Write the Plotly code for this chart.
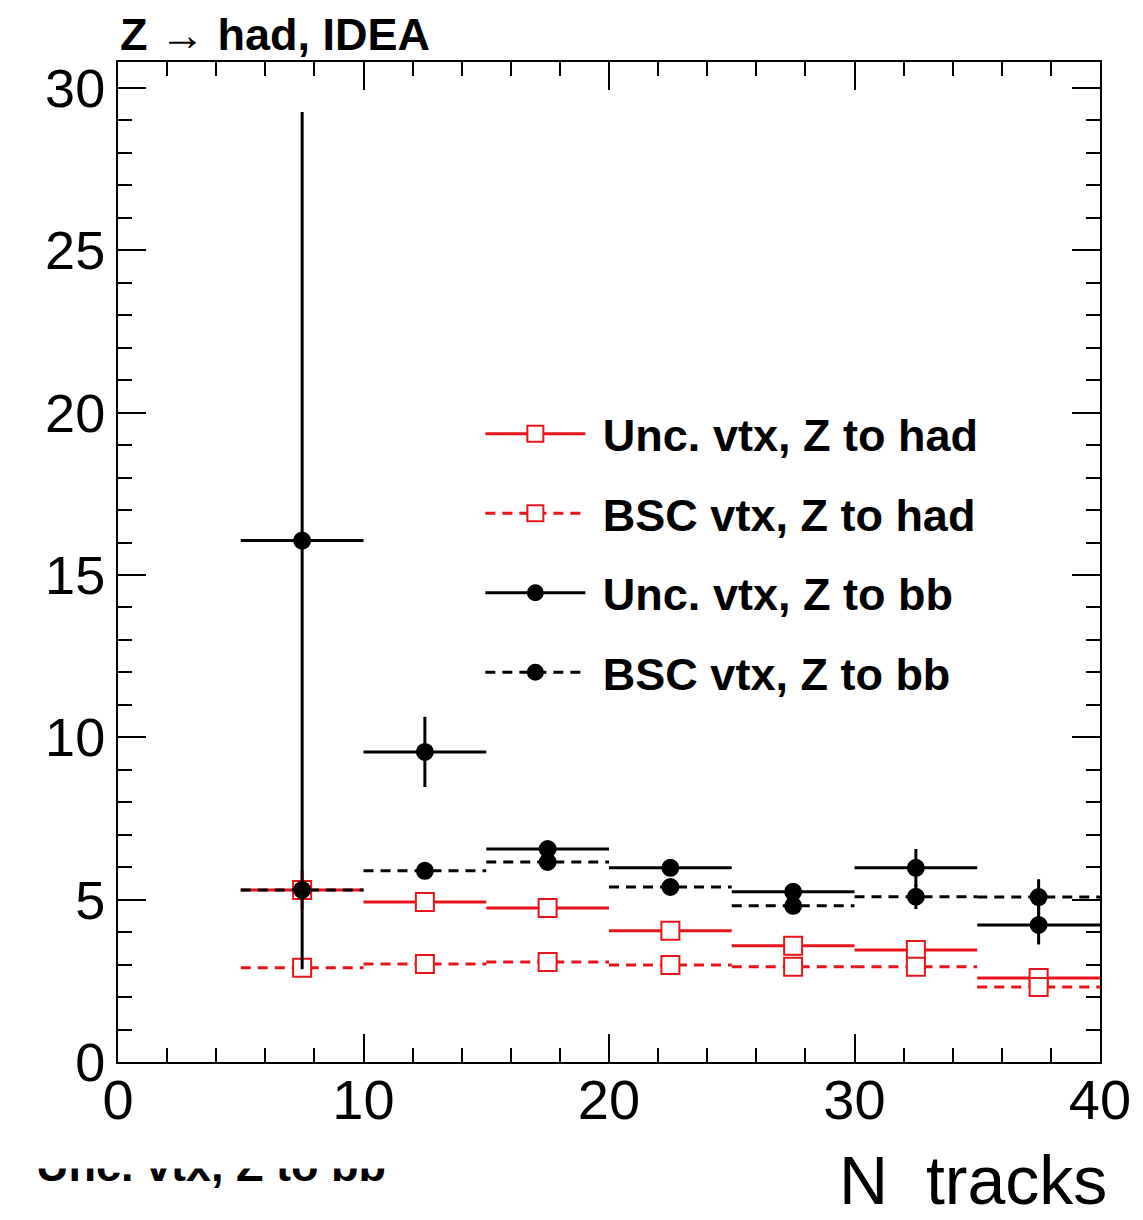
import plotly.graph_objects as go

# ---- data ----
bin_lo = [5, 10, 15, 20, 25, 30, 35]
bin_hi = [10, 15, 20, 25, 30, 35, 40]
bin_center = [7.5, 12.5, 17.5, 22.5, 27.5, 32.5, 37.5]

unc_had = [5.30, 4.93, 4.74, 4.04, 3.58, 3.45, 2.59]
unc_had_err = [0.60, 0.15, 0.15, 0.12, 0.12, 0.12, 0.12]
bsc_had = [2.90, 3.02, 3.08, 2.99, 2.93, 2.93, 2.31]
bsc_had_err = [0.10, 0.10, 0.10, 0.10, 0.10, 0.10, 0.10]
unc_bb = [16.06, 9.55, 6.56, 5.98, 5.24, 5.98, 4.22]
unc_bb_err = [13.2, 1.08, 0.15, 0.15, 0.15, 0.58, 0.60]
bsc_bb = [5.30, 5.89, 6.16, 5.39, 4.81, 5.09, 5.08]
bsc_bb_err = [0.30, 0.15, 0.15, 0.15, 0.15, 0.38, 0.55]

series = [
    ("Unc. vtx, Z to had", unc_had, unc_had_err, "#e8141c", "solid", "square", "white"),
    ("BSC vtx, Z to had", bsc_had, bsc_had_err, "#e8141c", "10px,7px", "square", "white"),
    ("Unc. vtx, Z to bb", unc_bb, unc_bb_err, "black", "solid", "circle", "black"),
    ("BSC vtx, Z to bb", bsc_bb, bsc_bb_err, "black", "10px,7px", "circle", "black"),
]

FONT = "Liberation Sans, Arial, Helvetica, sans-serif"

fig = go.Figure()

for name, vals, errs, col, dash, sym, fill in series:
    sx, sy = [], []
    for lo, hi, v in zip(bin_lo, bin_hi, vals):
        sx += [lo, hi, None]
        sy += [v, v, None]
    fig.add_trace(go.Scatter(x=sx, y=sy, mode="lines",
                             line=dict(color=col, width=3, dash=dash),
                             showlegend=False, hoverinfo="skip"))
    fig.add_trace(go.Scatter(
        x=bin_center, y=vals, mode="markers",
        marker=dict(symbol=sym, size=18 if sym == "square" else 16,
                    color=fill, line=dict(color=col, width=2)),
        error_y=dict(type="data", array=errs, visible=True,
                     color=col, thickness=3, width=0),
        showlegend=False))

# legend-only entries
for i, (name, vals, errs, col, dash, sym, fill) in enumerate(series):
    fig.add_trace(go.Scatter(
        x=[None], y=[None], mode="lines+markers",
        name="\u00a0" + name,
        legendgroup=f"g{i}",
        line=dict(color=col, width=3, dash=dash),
        marker=dict(symbol=sym, size=16 if sym == "square" else 15,
                    color=fill, line=dict(color=col, width=2))))

axis_common = dict(
    showline=True, linecolor="black", linewidth=2, mirror="allticks",
    ticks="inside", tickcolor="black", tickwidth=2, ticklen=28,
    showgrid=False, zeroline=False,
)

fig.update_xaxes(range=[0, 40], dtick=10, tick0=0,
                 tickfont=dict(family=FONT, size=56, color="black"),
                 ticklabelstandoff=-12,
                 minor=dict(ticks="inside", ticklen=14, tickwidth=2,
                            tickcolor="black", dtick=2, showgrid=False),
                 **axis_common)
fig.update_yaxes(range=[0, 30.8], dtick=5, tick0=0,
                 tickfont=dict(family=FONT, size=54, color="black"),
                 minor=dict(ticks="inside", ticklen=14, tickwidth=2,
                            tickcolor="black", dtick=1, showgrid=False),
                 **axis_common)

fig.update_layout(
    width=1143, height=1220,
    margin=dict(l=118, r=35, t=62, b=158),
    paper_bgcolor="white", plot_bgcolor="white",
    legend=dict(x=0.369, y=0.664, xanchor="left", yanchor="top",
                bgcolor="rgba(0,0,0,0)", itemwidth=100,
                tracegroupgap=18, traceorder="grouped",
                font=dict(family=FONT, size=45, color="black", weight="bold")),
    annotations=[
        dict(text="<b>Z \u2192 had, IDEA</b>", xref="paper", yref="paper",
             x=0, y=1.0, xanchor="left", yanchor="bottom", showarrow=False,
             font=dict(family=FONT, size=45, color="black")),
        dict(text="N  tracks", xref="paper", yref="paper",
             x=1.0, y=-0.118, xanchor="right", yanchor="middle", showarrow=False,
             xshift=9,
             font=dict(family=FONT, size=68, color="black")),
        dict(text="<b>Unc. vtx, Z to bb</b>", xref="paper", yref="paper",
             x=-0.086, y=-0.103, xanchor="left", yanchor="middle", showarrow=False,
             font=dict(family=FONT, size=45, color="black")),
        dict(text=" ", xref="paper", yref="paper",
             x=-0.095, y=-0.107, xanchor="left", yanchor="bottom", showarrow=False,
             width=385, height=34, bgcolor="white", borderpad=0,
             font=dict(family=FONT, size=10, color="black")),
    ],
)

fig.write_html("out.html")
